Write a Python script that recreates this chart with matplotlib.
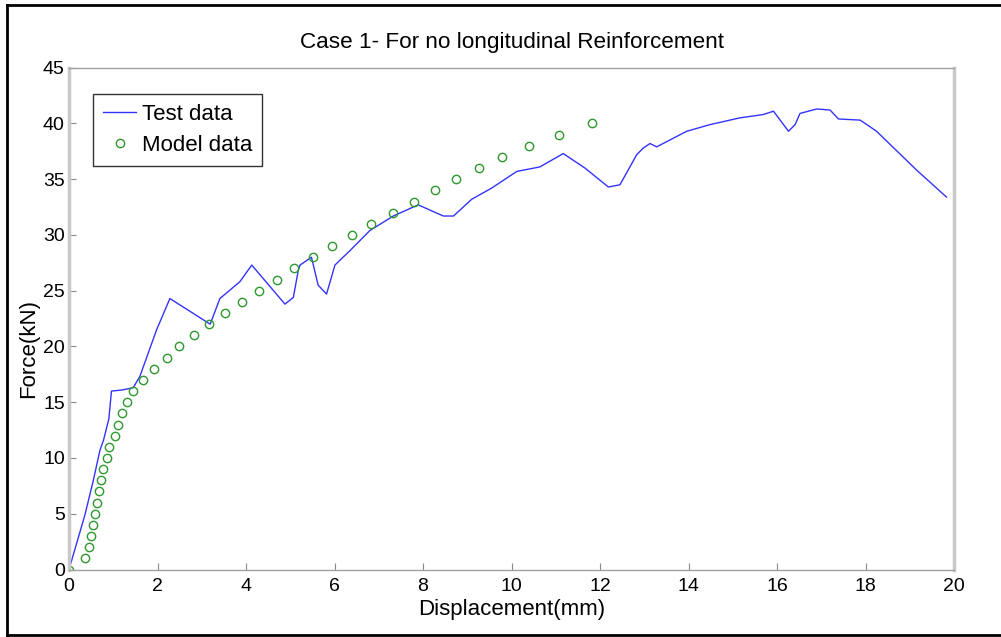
import matplotlib
matplotlib.use("Agg")
import matplotlib.pyplot as plt
from matplotlib.lines import Line2D

plt.rcParams['font.family'] = ['Liberation Sans', 'DejaVu Sans']

# Test data (displacement mm, force kN)
test_x = [0.0, 0.36, 0.55, 0.70, 0.78, 0.90, 0.96, 1.20, 1.45, 1.60, 1.98, 2.28,
          3.19, 3.41, 3.86, 4.13, 4.88, 5.07, 5.18, 5.22, 5.48, 5.63, 5.82, 6.01,
          6.35, 6.80, 7.33, 7.89, 8.46, 8.69, 9.10, 9.55, 10.12, 10.64, 11.17,
          11.66, 12.19, 12.45, 12.83, 12.98, 13.13, 13.28, 13.96, 14.49, 15.16,
          15.69, 15.92, 16.26, 16.41, 16.52, 16.90, 17.20, 17.39, 17.88, 18.25,
          19.16, 19.83]
test_y = [0.0, 4.9, 8.0, 10.7, 11.6, 13.5, 16.0, 16.1, 16.3, 17.3, 21.5, 24.3,
          22.0, 24.3, 25.8, 27.3, 23.8, 24.4, 26.8, 27.3, 28.0, 25.5, 24.7, 27.3,
          28.6, 30.4, 31.7, 32.7, 31.7, 31.7, 33.2, 34.2, 35.7, 36.1, 37.3,
          36.0, 34.3, 34.5, 37.2, 37.8, 38.2, 37.9, 39.3, 39.9, 40.5,
          40.8, 41.1, 39.3, 39.9, 40.9, 41.3, 41.2, 40.4, 40.3, 39.3,
          35.8, 33.4]

# Model data
model_x = [0.0, 0.36, 0.45, 0.50, 0.55, 0.58, 0.63, 0.68, 0.73, 0.77, 0.85, 0.90,
           1.03, 1.11, 1.20, 1.32, 1.45, 1.67, 1.92, 2.21, 2.49, 2.83, 3.17, 3.53,
           3.92, 4.29, 4.70, 5.09, 5.52, 5.95, 6.40, 6.82, 7.32, 7.80, 8.27, 8.75,
           9.27, 9.79, 10.40, 11.08, 11.83]
model_y = list(range(0, 41))

x_ticks = [0, 2, 4, 6, 8, 10, 12, 14, 16, 18, 20]
y_ticks = [0, 5, 10, 15, 20, 25, 30, 35, 40, 45]

fig = plt.figure(figsize=(10.01, 6.37), dpi=100)
ax = fig.add_axes([69/1001, 1-569.5/637, (954-69)/1001, (569.5-67.7)/637])

ax.plot(test_x, test_y, color='#3333ff', lw=1.0, label='Test data')
ax.plot(model_x, model_y, linestyle='none', marker='o', markersize=6,
        markerfacecolor='none', markeredgecolor='#2e9a2e', markeredgewidth=1.0,
        label='Model data')

ax.set_xlim(0, 20)
ax.set_ylim(0, 45)
ax.set_xticks(x_ticks)
ax.set_yticks(y_ticks)
ax.tick_params(direction='in', length=5, color='#888888', labelsize=14,
               labelcolor='black')
ax.tick_params(axis='x', pad=6)
ax.tick_params(axis='y', pad=3)
for s in ax.spines.values():
    s.set_color('#a0a0a0')
    s.set_linewidth(1.0)
ax.spines['left'].set_linewidth(2.5)
ax.spines['left'].set_color('#c8c8c8')
ax.spines['right'].set_linewidth(2.5)
ax.spines['right'].set_color('#c8c8c8')

ax.set_title('Case 1- For no longitudinal Reinforcement', fontsize=16.2, pad=14)
ax.set_xlabel('Displacement(mm)', fontsize=16, labelpad=3)
ax.set_ylabel('Force(kN)', fontsize=16, labelpad=4)
ax.yaxis.set_label_coords(-0.034, 0.44)

leg = ax.legend(loc='upper left', bbox_to_anchor=(0.027, 0.948), fontsize=16,
                frameon=True, fancybox=False, borderpad=0.45, handlelength=1.5,
                handletextpad=0.25, labelspacing=0.45, borderaxespad=0)
leg.get_frame().set_edgecolor('black')
leg.get_frame().set_linewidth(1.0)

# outer frame
fig.add_artist(Line2D([7/1001, 7/1001], [1-5/637, 1-635/637], color='black', lw=2, transform=fig.transFigure))
fig.add_artist(Line2D([7/1001, 1.0], [1-5/637, 1-5/637], color='black', lw=2, transform=fig.transFigure))
fig.add_artist(Line2D([7/1001, 1.0], [1-635/637, 1-635/637], color='black', lw=2, transform=fig.transFigure))

fig.savefig('out.png', dpi=100)
